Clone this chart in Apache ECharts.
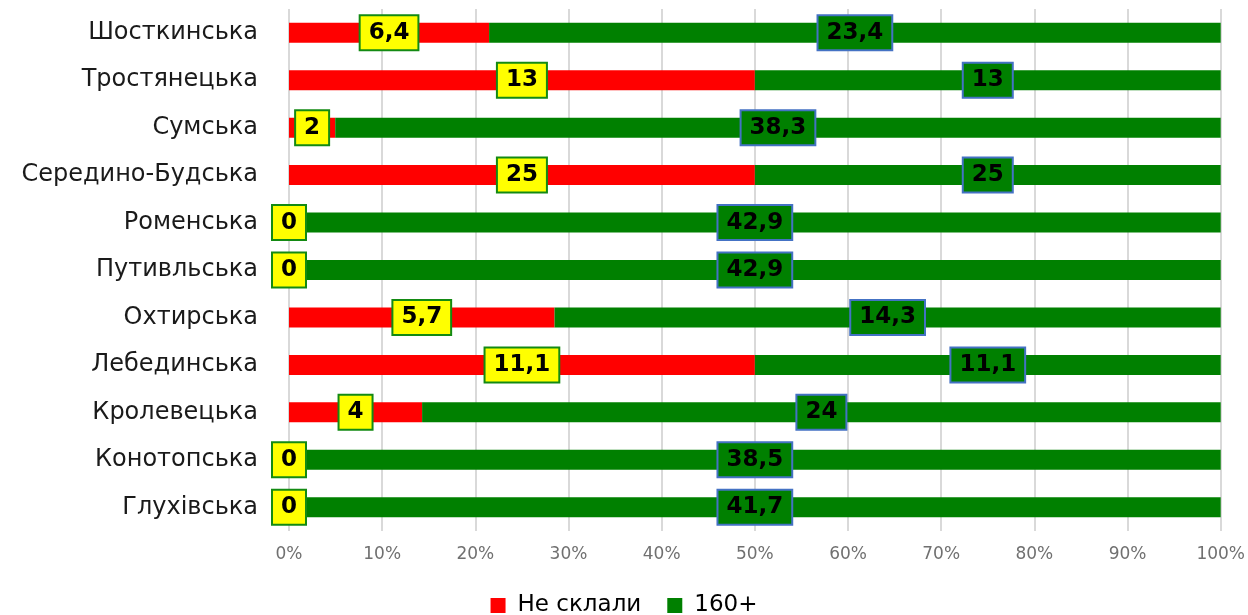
<!DOCTYPE html>
<html><head><meta charset="utf-8">
<script src="https://cdn.jsdelivr.net/npm/echarts@6/dist/echarts.min.js"></script>
<style>html,body{margin:0;padding:0;background:#fff}#c{width:1248px;height:615px}</style>
</head><body><div id="c"></div>
<script>
const categories = ['Шосткинська','Тростянецька','Сумська','Середино-Будська','Роменська','Путивльська','Охтирська','Лебединська','Кролевецька','Конотопська','Глухівська'];
const failed = [6.4, 13, 2, 25, 0, 0, 5.7, 11.1, 4, 0, 0];
const high = [23.4, 13, 38.3, 25, 42.9, 42.9, 14.3, 11.1, 24, 38.5, 41.7];
const seriesNames = ['Не склали', '160+'];

const pct = (a, i) => { const t = failed[i] + high[i]; return t ? a / t * 100 : 0; };
const fmt = v => String(v).replace('.', ',');
const font = 'DejaVu Sans, sans-serif';

function mk(name, arr, color, lblBg, lblBorder) {
  return {
    name, type: 'bar', stack: 's', barWidth: 20,
    itemStyle: { color },
    data: arr.map((v, i) => ({ value: pct(v, i), raw: v })),
    label: {
      show: true, position: 'inside',
      formatter: p => fmt(p.data.raw),
      backgroundColor: lblBg, borderColor: lblBorder, borderWidth: 2,
      padding: [6, 8, 3, 8], lineHeight: 24,
      color: '#000', fontWeight: 'bold', fontSize: 23, fontFamily: font
    }
  };
}

const chart = echarts.init(document.getElementById('c'));
chart.setOption({
  animation: false,
  grid: { left: 289, right: 27, top: 9, bottom: 84, containLabel: false },
  legend: {
    top: 589, left: 'center', itemWidth: 15, itemHeight: 15, itemGap: 26,
    icon: 'rect',
    textStyle: { fontSize: 23, color: '#000', fontFamily: font, padding: [0, 0, 0, 7] },
    data: seriesNames
  },
  xAxis: {
    type: 'value', min: 0, max: 100, interval: 10,
    axisLabel: { formatter: '{value}%', fontSize: 17, color: '#707070', margin: 15, fontFamily: font },
    axisLine: { show: false }, axisTick: { show: false },
    splitLine: { lineStyle: { color: '#d9d9d9', width: 2 } }
  },
  yAxis: {
    type: 'category', inverse: true, data: categories,
    axisLine: { show: false }, axisTick: { show: false },
    axisLabel: { fontSize: 24, color: '#1a1a1a', margin: 31, fontFamily: font }
  },
  series: [
    mk(seriesNames[0], failed, '#ff0000', '#ffff00', '#138a13'),
    mk(seriesNames[1], high, '#008000', '#008000', '#4472c4')
  ]
});
</script></body></html>
